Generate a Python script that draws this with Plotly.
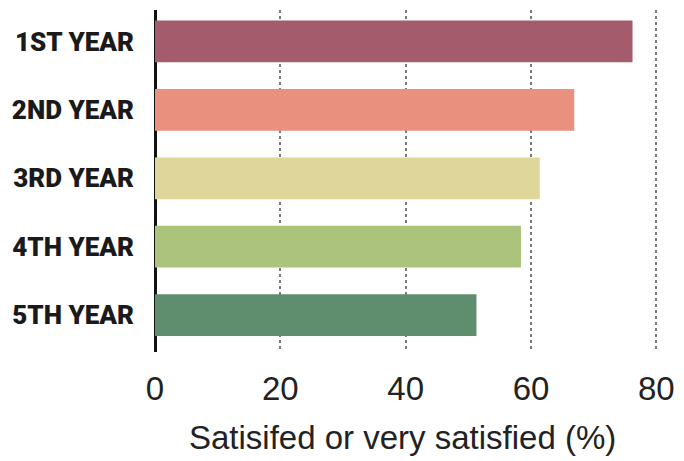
import plotly.graph_objects as go

years = ["1ST YEAR", "2ND YEAR", "3RD YEAR", "4TH YEAR", "5TH YEAR"]
satisfied_pct = [76.2, 66.9, 61.4, 58.4, 51.3]
bar_colors = ["#A45B6B", "#E9907F", "#DFD79A", "#ABC37A", "#5E8E6D"]
x_ticks = [0, 20, 40, 60, 80]
x_title = "Satisifed or very satisfied (%)"

fig = go.Figure(
    go.Bar(
        x=satisfied_pct,
        y=years,
        orientation="h",
        marker=dict(color=bar_colors, line=dict(width=0)),
        width=0.61,
        hoverinfo="x+y",
    )
)

fig.update_layout(
    width=684,
    height=461,
    margin=dict(l=155, r=12, t=10, b=109),
    plot_bgcolor="white",
    paper_bgcolor="white",
    showlegend=False,
    bargap=0.39,
)

fig.update_xaxes(
    range=[0, 82.5],
    tickvals=x_ticks,
    ticks="",
    ticklabelstandoff=14,
    tickfont=dict(family="Liberation Sans, Arial, sans-serif", size=33, color="#222222"),
    showgrid=True,
    gridcolor="#7a7a7a",
    gridwidth=2,
    griddash="dot",
    zeroline=True,
    zerolinecolor="#111111",
    zerolinewidth=3,
    showline=False,
    automargin=False,
)

fig.update_yaxes(
    type="category",
    categoryorder="array",
    categoryarray=years,
    range=[4.54, -0.46],
    ticks="",
    ticklabelstandoff=20,
    automargin=False,
    tickfont=dict(
        family="Roboto, Liberation Sans, sans-serif",
        size=26,
        color="#1a1a1a",
        weight=900,
    ),
    showgrid=False,
    zeroline=False,
    showline=False,
)

# axis caption, placed slightly left of the plot-area centre
fig.add_annotation(
    text=x_title,
    xref="paper",
    yref="paper",
    x=0.478,
    y=-0.249,
    xanchor="center",
    yanchor="middle",
    showarrow=False,
    font=dict(family="Liberation Sans, Arial, sans-serif", size=33, color="#222222"),
)

fig.write_html("out.html")
